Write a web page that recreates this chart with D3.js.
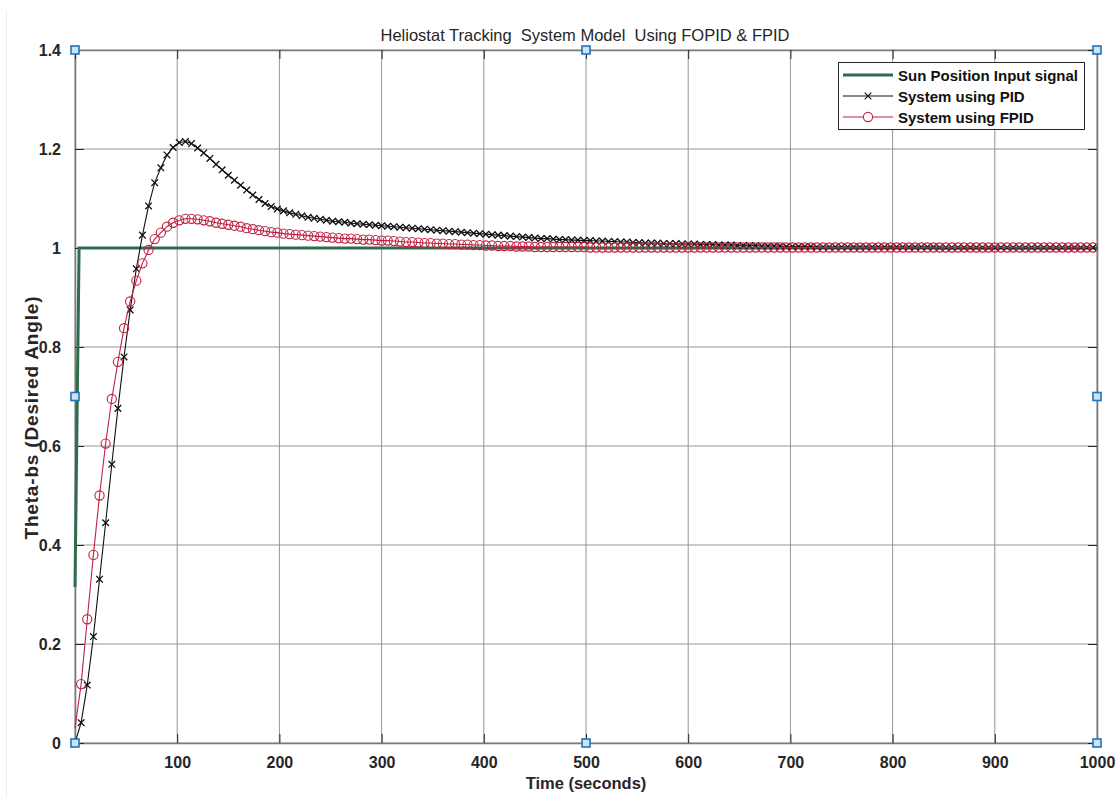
<!DOCTYPE html>
<html>
<head>
<meta charset="utf-8">
<script src="https://cdn.jsdelivr.net/npm/d3@7"></script>
<style>
  body { margin: 0; background: #fff; }
  svg { display: block; font-family: "Liberation Sans", Arial, sans-serif; }
</style>
</head>
<body>
<svg width="1119" height="798"></svg>
<script>
// chart size
const width = 1119;
const height = 798;

// time samples (seconds)
const time = [0,6,12,18,24,30,36,42,48,54,60,66,72,78,84,90,96,102,108,114,120,126,132,138,144,150,156,162,168,174,180,186,192,198,
  204,210,216,222,228,234,240,246,252,258,264,270,276,282,288,294,300,306,312,318,324,330,336,342,348,354,360,366,372,378,384,390,396,
  402,408,414,420,426,432,438,444,450,456,462,468,474,480,486,492,498,504,510,516,522,528,534,540,546,552,558,564,570,576,582,588,594,
  600,606,612,618,624,630,636,642,648,654,660,666,672,678,684,690,696,702,708,714,720,726,732,738,744,750,756,762,768,774,780,786,792,
  798,804,810,816,822,828,834,840,846,852,858,864,870,876,882,888,894,900,906,912,918,924,930,936,942,948,954,960,966,972,978,984,990,996];

// response
const pidValues = [0,0.041,0.117,0.215,0.331,0.445,0.563,0.676,0.780,0.875,0.958,1.026,1.085,1.132,1.162,1.188,1.203,1.213,1.215,1.211,
  1.202,1.192,1.181,1.169,1.158,1.147,1.137,1.127,1.117,1.107,1.098,1.090,1.084,1.079,1.075,1.071,1.068,1.065,1.062,1.060,
  1.058,1.056,1.054,1.053,1.052,1.050,1.049,1.048,1.047,1.046,1.045,1.044,1.043,1.042,1.041,1.040,1.039,1.038,1.037,1.036,
  1.035,1.034,1.033,1.032,1.031,1.030,1.029,1.028,1.027,1.026,1.025,1.024,1.023,1.022,1.021,1.020,1.019,1.019,1.018,1.017,
  1.017,1.016,1.016,1.015,1.015,1.014,1.014,1.013,1.013,1.012,1.012,1.011,1.011,1.010,1.010,1.010,1.009,1.009,1.009,1.008,
  1.008,1.008,1.007,1.007,1.007,1.006,1.006,1.006,1.005,1.005,1.005,1.005,1.004,1.004,1.004,1.004,1.003,1.003,1.003,1.003,
  1.003,1.002,1.002,1.002,1.002,1.002,1.002,1.002,1.002,1.002,1.002,1.002,1.002,1.002,1.002,1.002,1.002,1.002,1.002,1.002,
  1.002,1.001,1.001,1.001,1.001,1.001,1.001,1.001,1.001,1.001,1.001,1.001,1.001,1.001,1.001,1.001,1.001,1.001,1.001,1.001,
  1.001,1.001,1.001,1.001,1.001,1.001,1.001];

const fpidValues = [0.03,0.119,0.25,0.38,0.50,0.605,0.695,0.77,0.838,0.892,0.934,0.969,0.996,1.018,1.031,1.043,1.051,1.056,1.059,1.059,
  1.058,1.056,1.054,1.051,1.049,1.047,1.045,1.043,1.040,1.038,1.036,1.034,1.032,1.031,1.029,1.028,1.027,1.026,1.025,1.024,
  1.023,1.022,1.021,1.020,1.019,1.019,1.018,1.017,1.017,1.016,1.015,1.015,1.014,1.013,1.012,1.012,1.011,1.010,1.010,1.009,
  1.009,1.008,1.008,1.007,1.007,1.006,1.006,1.005,1.005,1.004,1.004,1.004,1.003,1.003,1.003,1.002,1.002,1.002,1.002,1.002,
  1.002,1.002,1.002,1.002,1.001,1.001,1.001,1.001,1.001,1.001,1.001,1.001,1.001,1.001,1.001,1.001,1.001,1.001,1.001,1.001,
  1.001,1.001,1.001,1.001,1.001,1.001,1.001,1.001,1.001,1.001,1.001,1.001,1.001,1.001,1.001,1.001,1.001,1.001,1.001,1.001,
  1.001,1.001,1.001,1.001,1.001,1.001,1.001,1.001,1.001,1.001,1.001,1.001,1.001,1.001,1.001,1.001,1.001,1.001,1.001,1.001,
  1.001,1.001,1.001,1.001,1.001,1.001,1.001,1.001,1.001,1.001,1.001,1.001,1.001,1.001,1.001,1.001,1.001,1.001,1.001,1.001,
  1.001,1.001,1.001,1.001,1.001,1.001,1.001];

// sun position input (step)
const sunTime = [0, 4, 1000];
const sunValues = [0.315, 1, 1];

// ticks
const xTicks = [0,100,200,300,400,500,600,700,800,900,1000];
const xTickLabels = ["","100","200","300","400","500","600","700","800","900","1000"];
const yTicks = [0,0.2,0.4,0.6,0.8,1,1.2,1.4];
const yTickLabels = ["0","0.2","0.4","0.6","0.8","1","1.2","1.4"];

// selection handles of the axes (figure edit mode)
const handleX = [0,0,0,500,500,1000,1000,1000];
const handleY = [0,0.7,1.4,0,1.4,0,0.7,1.4];

const legendNames = ["Sun Position Input signal", "System using PID", "System using FPID"];

const svg = d3.select("svg");
svg.append("rect").attr("width", width).attr("height", height).attr("fill", "#fff");
// faint window edge
svg.append("line").attr("x1", 6.5).attr("x2", 6.5).attr("y1", 10).attr("y2", height)
  .attr("stroke", "#ececec").attr("stroke-width", 1);

const xScale = d3.scaleLinear().domain([0, 1000]).range([75, 1097]);
const yScale = d3.scaleLinear().domain([0, 1.4]).range([743, 50]);

// grid
const grid = svg.append("g").attr("class", "grid");
grid.selectAll(".gx").data(xTicks).enter().append("line")
  .attr("x1", d => xScale(d)).attr("x2", d => xScale(d))
  .attr("y1", yScale(0)).attr("y2", yScale(1.4))
  .attr("stroke", "#959595").attr("stroke-width", 1);
grid.selectAll(".gy").data(yTicks).enter().append("line")
  .attr("x1", xScale(0)).attr("x2", xScale(1000))
  .attr("y1", d => yScale(d)).attr("y2", d => yScale(d))
  .attr("stroke", "#959595").attr("stroke-width", 1);

// axes (box with inward ticks)
const tickLen = 9;
const xAxis = d3.axisBottom(xScale).tickValues(xTicks)
  .tickFormat((d, i) => xTickLabels[i]).tickSizeInner(-tickLen).tickSizeOuter(0).tickPadding(tickLen + 5);
const yAxis = d3.axisLeft(yScale).tickValues(yTicks)
  .tickFormat((d, i) => yTickLabels[i]).tickSizeInner(-tickLen).tickSizeOuter(0).tickPadding(tickLen + 5);
const xTop = d3.axisTop(xScale).tickValues(xTicks).tickFormat("").tickSizeInner(-tickLen).tickSizeOuter(0);
const yRight = d3.axisRight(yScale).tickValues(yTicks).tickFormat("").tickSizeInner(-tickLen).tickSizeOuter(0);

function styleAxis(g) {
  g.select(".domain").attr("stroke", "#7a7a7a").attr("stroke-width", 1.6);
  g.selectAll(".tick line").attr("stroke", "#262626").attr("stroke-width", 1);
  g.selectAll(".tick text").attr("fill", "#262626")
    .style("font-size", "16px").style("font-weight", "bold")
    .style("font-family", "'Liberation Sans', Arial, sans-serif");
}

svg.append("g").attr("transform", `translate(0,${yScale(0)})`).call(xAxis).call(styleAxis);
svg.append("g").attr("transform", `translate(${xScale(0)},0)`).call(yAxis).call(styleAxis);
svg.append("g").attr("transform", `translate(0,${yScale(1.4)})`).call(xTop).call(styleAxis);
svg.append("g").attr("transform", `translate(${xScale(1000)},0)`).call(yRight).call(styleAxis);

// series
const pid = time.map((t, i) => ({ t: t, v: pidValues[i] }));
const fpid = time.map((t, i) => ({ t: t, v: fpidValues[i] }));
const sun = sunTime.map((t, i) => ({ t: t, v: sunValues[i] }));

const line = d3.line().x(d => xScale(d.t)).y(d => yScale(d.v));

const green = "#2f6b4c";
const red = "#bf2041";

svg.append("path").datum(sun).attr("d", line)
  .attr("fill", "none").attr("stroke", green).attr("stroke-width", 3);

svg.append("path").datum(pid).attr("d", line)
  .attr("fill", "none").attr("stroke", "#111").attr("stroke-width", 1.1);
const xMark = "M-3.3,-3.3L3.3,3.3M-3.3,3.3L3.3,-3.3";
svg.append("g").selectAll("path").data(pid).enter().append("path")
  .attr("transform", d => `translate(${xScale(d.t)},${yScale(d.v)})`)
  .attr("d", xMark).attr("stroke", "#111").attr("stroke-width", 1.3).attr("fill", "none");

svg.append("path").datum(fpid).attr("d", line)
  .attr("fill", "none").attr("stroke", red).attr("stroke-width", 1.1);
svg.append("g").selectAll("circle").data(fpid.slice(1)).enter().append("circle")
  .attr("cx", d => xScale(d.t)).attr("cy", d => yScale(d.v)).attr("r", 4.6)
  .attr("fill", "none").attr("stroke", red).attr("stroke-width", 1.1);

// selection handles
svg.append("g").selectAll("rect").data(handleX).enter().append("rect")
  .attr("x", (d, i) => xScale(d) - 4).attr("y", (d, i) => yScale(handleY[i]) - 4)
  .attr("width", 8).attr("height", 8)
  .attr("fill", "#cfe2f3").attr("stroke", "#1f74bd").attr("stroke-width", 1.6);

// title and labels
svg.append("text").attr("x", 585).attr("y", 41).attr("text-anchor", "middle")
  .style("font-size", "16.5px").style("white-space", "pre").attr("fill", "#262626")
  .text("Heliostat Tracking  System Model  Using FOPID & FPID");

svg.append("text").attr("x", 586).attr("y", 789).attr("text-anchor", "middle")
  .style("font-size", "16.5px").style("font-weight", "bold").attr("fill", "#262626")
  .text("Time (seconds)");

svg.append("text").attr("transform", "translate(38,418) rotate(-90)").attr("text-anchor", "middle")
  .style("font-size", "19px").style("font-weight", "bold").attr("fill", "#262626")
  .attr("textLength", 243).attr("lengthAdjust", "spacing")
  .text("Theta-bs (Desired Angle)");

// legend
const legend = svg.append("g");
legend.append("rect").attr("x", 838.5).attr("y", 62.5).attr("width", 246).attr("height", 67)
  .attr("fill", "#fff").attr("stroke", "#262626").attr("stroke-width", 1);
const rows = legend.selectAll(".row").data(legendNames).enter().append("g")
  .attr("transform", (d, i) => `translate(0,${75 + i * 21})`);
rows.append("line").attr("x1", 843).attr("x2", 893).attr("y1", 0).attr("y2", 0)
  .attr("stroke", (d, i) => [green, "#111", red][i])
  .attr("stroke-width", (d, i) => i === 0 ? 3 : 1.1);
rows.filter((d, i) => i === 1).append("path").attr("transform", "translate(868,0)")
  .attr("d", xMark).attr("stroke", "#111").attr("stroke-width", 1.2);
rows.filter((d, i) => i === 2).append("circle").attr("cx", 868).attr("cy", 0).attr("r", 4.6)
  .attr("fill", "#fff").attr("stroke", red).attr("stroke-width", 1.1);
rows.append("text").attr("x", 898).attr("y", 6)
  .style("font-size", "15px").style("font-weight", "bold").attr("fill", "#111")
  .text(d => d);
</script>
</body>
</html>
